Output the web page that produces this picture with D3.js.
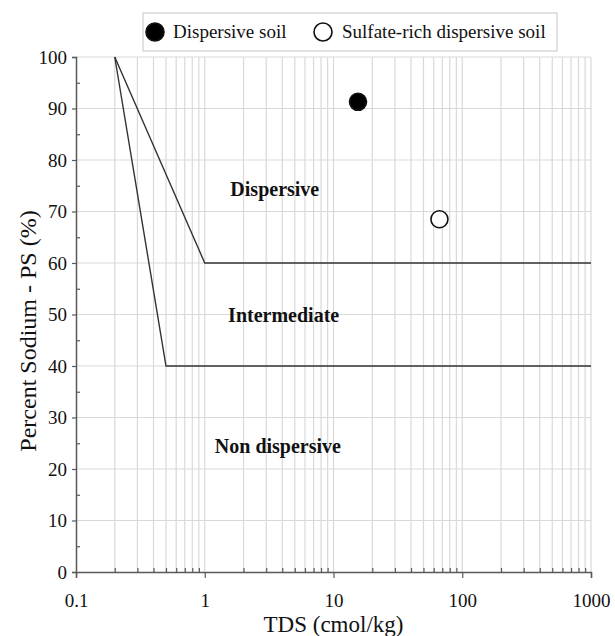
<!DOCTYPE html>
<html>
<head>
<meta charset="utf-8">
<script src="https://cdn.jsdelivr.net/npm/d3@7"></script>
</head>
<body style="margin:0">
<script>
var FONT = "'Liberation Serif'";

// boundary lines of the classification chart (TDS, PS)
var upperLine = [[0.2, 100], [1, 60], [1000, 60]];
var lowerLine = [[0.2, 100], [0.5, 40], [1000, 40]];

// soil samples
var sampleNames = ["Dispersive soil", "Sulfate-rich dispersive soil"];
var sampleTDS = [15.5, 66.5];
var samplePS = [91.3, 68.5];
var sampleFill = ["#000", "#fff"];

// zone labels
var zoneNames = ["Dispersive", "Intermediate", "Non dispersive"];
var zoneTDS = [3.5, 4.1, 3.7];
var zonePS = [73, 48.5, 23.1];

var xTicks = [0.1, 1, 10, 100, 1000];
var yTicks = [0, 10, 20, 30, 40, 50, 60, 70, 80, 90, 100];

var margin = {top: 57, right: 24, bottom: 64, left: 76},
    width = 615 - margin.left - margin.right,
    height = 636 - margin.top - margin.bottom;

var svg = d3.select("body").append("svg")
    .attr("width", 615)
    .attr("height", 636);

var g = svg.append("g")
    .attr("transform", "translate(" + margin.left + "," + margin.top + ")");

var x = d3.scaleLog().domain([0.1, 1000]).range([0, width]);
var y = d3.scaleLinear().domain([0, 100]).range([height, 0]);

// all the minor log values 0.2..0.9, 2..9 etc
var xMinor = [];
xTicks.slice(0, -1).forEach(function(d) {
  for (var k = 2; k <= 9; k++) xMinor.push(d * k);
});

// vertical gridlines
g.selectAll(".vgrid")
    .data(xMinor.concat(xTicks.slice(1)))
  .enter().append("line")
    .attr("x1", function(d) { return x(d); })
    .attr("x2", function(d) { return x(d); })
    .attr("y1", 0).attr("y2", height)
    .attr("stroke", "#d9d9d9").attr("stroke-width", 1.2);

// horizontal gridlines
g.selectAll(".hgrid")
    .data(yTicks.slice(1))
  .enter().append("line")
    .attr("x1", 0).attr("x2", width)
    .attr("y1", function(d) { return y(d); })
    .attr("y2", function(d) { return y(d); })
    .attr("stroke", "#d9d9d9").attr("stroke-width", 1.2);

// x axis: major ticks down, minor ticks up
var xAxis = g.append("g")
    .attr("transform", "translate(0," + height + ")")
    .call(d3.axisBottom(x).tickValues(xTicks).tickSize(6).tickPadding(16)
      .tickFormat(function(d) { return String(d); }));
xAxis.attr("font-family", null);
xAxis.selectAll("text").attr("font-size", 19).attr("fill", "#111")
    .style("font-family", FONT);
xAxis.select(".domain").attr("stroke", "#595959").attr("stroke-width", 1.5);
xAxis.selectAll(".tick line").attr("stroke", "#595959").attr("stroke-width", 1.2);
g.append("g")
    .attr("transform", "translate(0," + height + ")")
    .call(d3.axisTop(x).tickValues(xMinor).tickSize(4).tickFormat(""))
    .call(function(s) { s.select(".domain").remove(); })
    .selectAll("line").attr("stroke", "#595959").attr("stroke-width", 1.2);

// y axis: major ticks left, minor ticks right
var yAxis = g.append("g")
    .call(d3.axisLeft(y).tickValues(yTicks).tickSize(4).tickPadding(5));
yAxis.attr("font-family", null);
yAxis.selectAll("text").attr("font-size", 19).attr("fill", "#111")
    .style("font-family", FONT);
yAxis.select(".domain").attr("stroke", "#595959").attr("stroke-width", 1.5);
yAxis.selectAll(".tick line").attr("stroke", "#595959").attr("stroke-width", 1.2);
g.append("g")
    .call(d3.axisRight(y).tickValues(d3.range(5, 100, 10)).tickSize(4).tickFormat(""))
    .call(function(s) { s.select(".domain").remove(); })
    .selectAll("line").attr("stroke", "#595959").attr("stroke-width", 1.2);

// boundary lines
var line = d3.line()
    .x(function(d) { return x(d[0]); })
    .y(function(d) { return y(d[1]); });

[upperLine, lowerLine].forEach(function(pts) {
  g.append("path")
      .datum(pts)
      .attr("d", line)
      .attr("fill", "none")
      .attr("stroke", "#333")
      .attr("stroke-width", 1.4);
});

// zone labels
g.selectAll(".zone")
    .data(zoneNames)
  .enter().append("text")
    .attr("x", function(d, i) { return x(zoneTDS[i]); })
    .attr("y", function(d, i) { return y(zonePS[i]); })
    .attr("text-anchor", "middle")
    .attr("font-size", 20)
    .attr("font-weight", "bold")
    .attr("fill", "#111")
    .style("font-family", FONT)
    .text(function(d) { return d; });

// sample points
g.selectAll(".pt")
    .data(sampleNames)
  .enter().append("circle")
    .attr("cx", function(d, i) { return x(sampleTDS[i]); })
    .attr("cy", function(d, i) { return y(samplePS[i]); })
    .attr("r", 8.5)
    .attr("fill", function(d, i) { return sampleFill[i]; })
    .attr("stroke", "#111")
    .attr("stroke-width", 1.6);

// axis titles
svg.append("text")
    .attr("text-anchor", "middle")
    .attr("transform", "translate(" + (margin.left + width / 2) + ",632)")
    .attr("font-size", 23)
    .attr("fill", "#111")
    .style("font-family", FONT)
    .text("TDS (cmol/kg)");

svg.append("text")
    .attr("text-anchor", "middle")
    .attr("transform", "translate(36,331)rotate(-90)")
    .attr("font-size", 24)
    .attr("fill", "#111")
    .style("font-family", FONT)
    .text("Percent Sodium - PS (%)");

// legend
var legend = svg.append("g");
legend.append("rect")
    .attr("x", 143).attr("y", 13)
    .attr("width", 414).attr("height", 38)
    .attr("fill", "#fff")
    .attr("stroke", "#cfcfcf")
    .attr("stroke-width", 1.2);

var legX = [155, 323];
sampleNames.forEach(function(name, i) {
  legend.append("circle")
      .attr("cx", legX[i]).attr("cy", 32)
      .attr("r", 9)
      .attr("fill", sampleFill[i])
      .attr("stroke", "#111")
      .attr("stroke-width", 1.6);
  legend.append("text")
      .attr("x", legX[i] + 18 + i).attr("y", 38)
      .attr("font-size", 19)
      .attr("fill", "#111")
      .style("font-family", FONT)
      .text(name);
});
</script>
</body>
</html>
